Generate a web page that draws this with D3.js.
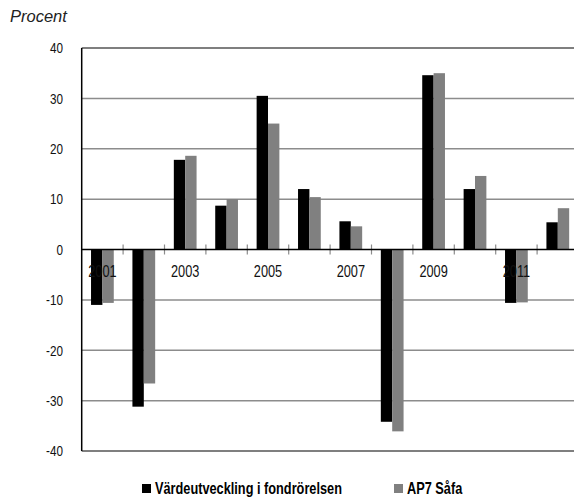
<!DOCTYPE html>
<html>
<head>
<meta charset="utf-8">
<script src="https://cdn.jsdelivr.net/npm/d3@7"></script>
<style>
  body { margin: 0; background: #fff; }
  svg { display: block; }
  .narrow { font-family: "Liberation Sans", Arial, sans-serif; }
</style>
</head>
<body>
<svg id="chart" width="574" height="497"></svg>
<script>
var years = ["2001","2002","2003","2004","2005","2006","2007","2008","2009","2010","2011","2012"];
var fondrorelsen = [-11.0, -31.2, 17.8, 8.7, 30.5, 12.0, 5.6, -34.2, 34.6, 12.0, -10.6, 5.4];
var safa = [-10.6, -26.6, 18.6, 10.0, 25.0, 10.4, 4.6, -36.1, 35.0, 14.6, -10.5, 8.2];
var yTicks = [-40, -30, -20, -10, 0, 10, 20, 30, 40];
var yearLabels = ["2001","2003","2005","2007","2009","2011"];
var seriesNames = ["Värdeutveckling i fondrörelsen", "AP7 Såfa"];
var colors = ["#000000", "#808080"];

var svg = d3.select("#chart");

var plotLeft = 81.7, plotRight = 578.5, plotTop = 48, plotBottom = 451;
var squeeze = 0.78;  // condensed look

var x = d3.scaleBand().domain(years).range([plotLeft, plotRight]);
var xs = d3.scaleBand().domain([0, 1]).range([0, x.bandwidth()]).paddingOuter(0.82);
var y = d3.scaleLinear().domain([-40, 40]).range([plotBottom, plotTop]);

// gridlines
svg.append("g")
  .selectAll("line")
  .data(yTicks.filter(function(d) { return d !== 0; }))
  .enter().append("line")
    .attr("x1", plotLeft).attr("x2", 574)
    .attr("y1", function(d) { return y(d); })
    .attr("y2", function(d) { return y(d); })
    .attr("stroke", function(d) { return Math.abs(d) === 40 ? "#555" : "#8c8c8c"; })
    .attr("stroke-width", 1.5);

// y labels
svg.append("g")
  .attr("class", "narrow")
  .selectAll("g")
  .data(yTicks)
  .enter().append("g")
    .attr("transform", function(d) { return "translate(63," + y(d) + ")"; })
  .append("text")
    .attr("transform", "scale(" + squeeze + ",1)")
    .attr("dy", "0.35em")
    .attr("text-anchor", "end")
    .attr("font-size", 15)
    .attr("fill", "#111")
    .text(function(d) { return d; });

// category ticks on the zero line
svg.append("g")
  .selectAll("line")
  .data(years.slice(1))
  .enter().append("line")
    .attr("x1", function(d) { return x(d); })
    .attr("x2", function(d) { return x(d); })
    .attr("y1", y(0) - 5).attr("y2", y(0) + 5)
    .attr("stroke", "#8c8c8c")
    .attr("stroke-width", 1.2);

// bars
var data = years.map(function(yr, i) { return { year: yr, vals: [fondrorelsen[i], safa[i]] }; });

svg.append("g")
  .selectAll("g")
  .data(data)
  .enter().append("g")
    .attr("transform", function(d) { return "translate(" + x(d.year) + ",0)"; })
  .selectAll("rect")
  .data(function(d) { return d.vals.map(function(v, k) { return { k: k, v: v }; }); })
  .enter().append("rect")
    .attr("x", function(d) { return xs(d.k); })
    .attr("width", xs.bandwidth())
    .attr("y", function(d) { return y(Math.max(0, d.v)); })
    .attr("height", function(d) { return Math.abs(y(d.v) - y(0)); })
    .attr("fill", function(d) { return colors[d.k]; });

// zero line
svg.append("line")
  .attr("x1", plotLeft).attr("x2", 574)
  .attr("y1", y(0)).attr("y2", y(0))
  .attr("stroke", "#000").attr("stroke-width", 1.5);

// y axis line
svg.append("line")
  .attr("x1", plotLeft).attr("x2", plotLeft)
  .attr("y1", plotTop).attr("y2", plotBottom)
  .attr("stroke", "#000").attr("stroke-width", 1.5);

// year labels
svg.append("g")
  .attr("class", "narrow")
  .selectAll("g")
  .data(yearLabels)
  .enter().append("g")
    .attr("transform", function(d) { return "translate(" + (x(d) + x.bandwidth() / 2) + "," + (y(0) + 27) + ")"; })
  .append("text")
    .attr("transform", "scale(0.75,1)")
    .attr("text-anchor", "middle")
    .attr("font-size", 17)
    .attr("fill", "#111")
    .text(function(d) { return d; });

// unit label
svg.append("text")
  .attr("x", 10).attr("y", 22)
  .attr("font-family", "'Liberation Sans', Arial, sans-serif")
  .attr("font-style", "italic")
  .attr("font-size", 16.5)
  .attr("fill", "#222")
  .text("Procent");

// legend
var legendX = [142, 394];
var legend = svg.append("g").attr("class", "narrow");
seriesNames.forEach(function(name, i) {
  legend.append("rect")
    .attr("x", legendX[i]).attr("y", 484)
    .attr("width", 9).attr("height", 9)
    .attr("fill", colors[i]);
  legend.append("g")
    .attr("transform", "translate(" + (legendX[i] + 13) + ",494)")
  .append("text")
    .attr("transform", "scale(0.75,1)")
    .attr("font-size", 17)
    .attr("font-weight", "bold")
    .attr("fill", "#000")
    .text(name);
});
</script>
</body>
</html>
